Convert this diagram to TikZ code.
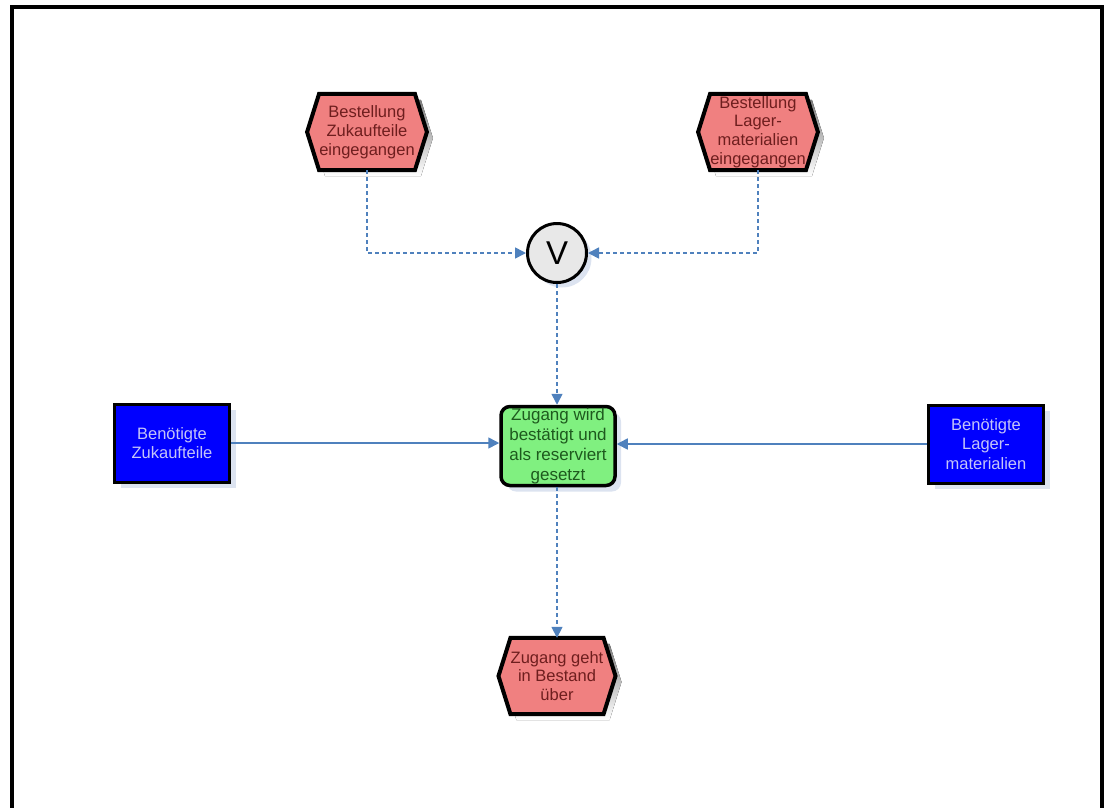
\documentclass[tikz,border=0pt]{standalone}
\usepackage{fontspec}
\setmainfont{Liberation Sans}
\usetikzlibrary{arrows.meta,calc,backgrounds,shadows}

\definecolor{evfill}{HTML}{F08080}
\definecolor{evtext}{HTML}{6E1E1E}
\definecolor{fnfill}{HTML}{80F080}
\definecolor{fntext}{HTML}{1E5A1E}
\definecolor{infill}{HTML}{0000FF}
\definecolor{intext}{HTML}{C4C4F8}
\definecolor{opfill}{HTML}{E8E8E8}
\definecolor{flow}{HTML}{4F81BD}
\definecolor{shade}{HTML}{DCE3F0}

\begin{document}
\begin{tikzpicture}[x=1pt,y=-1pt,
  evtxt/.style={minimum width=92pt, minimum height=76pt, inner sep=0pt,
    text=evtext, align=center, font=\fontsize{16.5}{18.8}\selectfont},
  func/.style={draw=black, line width=3.5pt, fill=fnfill, rounded corners=9pt,
    minimum width=114pt, minimum height=79pt, inner sep=0pt, text=fntext,
    align=center, font=\fontsize{17}{19.8}\selectfont,
    drop shadow={shadow xshift=6pt, shadow yshift=-6pt, fill=shade, opacity=1}},
  infobj/.style={draw=black, line width=3pt, fill=infill,
    minimum width=115pt, minimum height=78pt, inner sep=0pt, text=intext,
    align=center, font=\fontsize{16.5}{19.5}\selectfont,
    drop shadow={shadow xshift=6pt, shadow yshift=-6pt, fill=shade, opacity=1}},
  oper/.style={draw=black, circle, line width=3pt, fill=opfill,
    minimum size=59pt, inner sep=0pt, font=\fontsize{33}{33}\selectfont,
    drop shadow={shadow xshift=5pt, shadow yshift=-5pt, fill=shade, opacity=1}},
  ctrl/.style={flow, line width=1.6pt, dash pattern=on 4pt off 3pt,
    -{Triangle[length=11pt,width=11pt]}},
  datafl/.style={flow, line width=1.6pt, -{Triangle[length=11pt,width=11pt]}},
  hexline/.style={draw=black, line width=4pt, fill=evfill, line join=miter},
]
\useasboundingbox (0,0) rectangle (1111,807);

% outer frame
\draw[line width=3.5pt] (12,830) -- (12,7) -- (1102,7) -- (1102,830);

% events (text part; outlines are drawn behind)
\node[evtxt] (e1) at (367,132) {Bestellung\\Zukaufteile\\eingegangen};
\node[evtxt] (e2) at (758,132) {Bestellung\\Lager-\\materialien\\eingegangen};
\node[evtxt] (e3) at (557,676) {Zugang geht\\in Bestand\\über};

% operator
\node[oper] (op) at (557,253) {V};

% function
\node[func] (fn) at (558,446) {Zugang wird\\bestätigt und\\als reserviert\\gesetzt};

% information objects
\node[infobj] (i1) at (172,443) {Benötigte\\Zukaufteile};
\node[infobj] (i2) at (986,444) {Benötigte\\Lager-\\materialien};

% hexagon outlines of the events
\begin{scope}[on background layer]
  \foreach \n in {e1,e2,e3}{
    \fill[shade] ($(\n.north west)+(6,6)$) -- ($(\n.north east)+(6,6)$)
      -- ($(\n.east)+(18,6)$) -- ($(\n.south east)+(6,6)$)
      -- ($(\n.south west)+(6,6)$) -- ($(\n.west)+(-6,6)$) -- cycle;
    \path[hexline] (\n.north west) -- (\n.north east) -- ($(\n.east)+(12,0)$)
      -- (\n.south east) -- (\n.south west) -- ($(\n.west)+(-12,0)$) -- cycle;
  }
\end{scope}

% control flow
\draw[ctrl] (e1.south) |- (op.west);
\draw[ctrl] (e2.south) |- (op.east);
\draw[ctrl] (op.south) -- (fn.north -| op.south);
\draw[ctrl] (fn.south -| e3.north) -- (e3.north);

% information flow
\draw[datafl] (i1.east) -- (fn.west |- i1.east);
\draw[datafl] (i2.west) -- (fn.east |- i2.west);
\end{tikzpicture}
\end{document}
